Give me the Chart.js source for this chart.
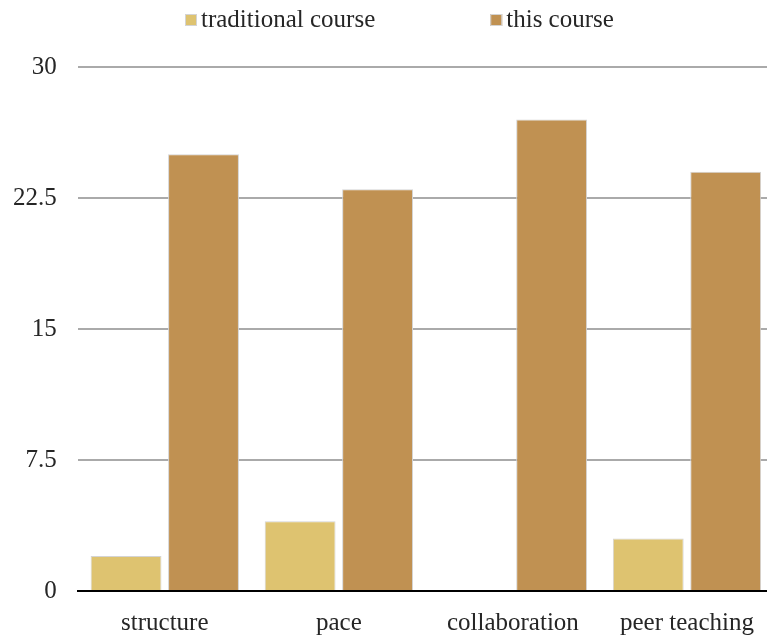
<!DOCTYPE html>
<html>
<head>
<meta charset="utf-8">
<script src="https://cdn.jsdelivr.net/npm/chart.js@4/dist/chart.umd.min.js"></script>
<style>
  body { margin: 0; background: #fff; overflow: hidden; }
  /* the original plot runs slightly past the right edge of the picture */
  #wrap { width: 775px; height: 639px; position: relative; }
</style>
</head>
<body>
<div id="wrap"><canvas id="course-chart"></canvas></div>
<script>
let categories = ['structure', 'pace', 'collaboration', 'peer teaching'];
let traditionalValues = [2, 4, 0, 3];
let thisCourseValues = [25, 23, 27, 24];
let yTicks = [0, 7.5, 15, 22.5, 30];

let fontFamily = '"Liberation Serif", "Times New Roman", serif';
let textColor = '#262626';

// legend drawn by hand so the two items can sit far apart like the original
let topLegend = {
    id: 'topLegend',
    afterDraw(chart) {
        let ctx = chart.ctx;
        ctx.save();
        ctx.font = '25px ' + fontFamily;
        ctx.textBaseline = 'middle';
        let y = 20;
        let x = 185;
        chart.data.datasets.forEach(ds => {
            ctx.fillStyle = ds.backgroundColor;
            ctx.fillRect(x, y - 6, 12, 12);
            ctx.strokeStyle = '#d4d4d4';
            ctx.lineWidth = 1;
            ctx.strokeRect(x + 0.5, y - 5.5, 11, 11);
            ctx.fillStyle = textColor;
            ctx.fillText(ds.label, x + 16, y);
            x += 16 + ctx.measureText(ds.label).width + 115;
        });
        ctx.restore();
    }
};

let courseData = {
    labels: categories,
    datasets: [{
        label: 'traditional course',
        data: traditionalValues,
        backgroundColor: '#DEC370',
        borderColor: '#d4d4d4',
        borderWidth: 1,
        categoryPercentage: 0.89,
        barPercentage: 0.915
    }, {
        label: 'this course',
        data: thisCourseValues,
        backgroundColor: '#C09152',
        borderColor: '#d4d4d4',
        borderWidth: 1,
        categoryPercentage: 0.89,
        barPercentage: 0.915
    }]
};

let courseConfig = {
    type: 'bar',
    data: courseData,
    options: {
        responsive: true,
        maintainAspectRatio: false,
        animation: false,
        layout: {
            padding: { top: 67, left: -8, right: 1, bottom: -16 }
        },
        plugins: {
            legend: { display: false },
            tooltip: { enabled: false }
        },
        scales: {
            x: {
                grid: { display: false, drawTicks: false },
                border: { display: true, color: '#000', width: 2 },
                ticks: {
                    color: textColor,
                    padding: 17,
                    font: { family: fontFamily, size: 25 }
                }
            },
            y: {
                min: 0,
                max: 30,
                afterBuildTicks(axis) {
                    axis.ticks = yTicks.map(v => ({ value: v }));
                },
                grid: { color: '#aaaaaa', lineWidth: 2, drawTicks: false },
                border: { display: false },
                ticks: {
                    color: textColor,
                    padding: 21,
                    font: { family: fontFamily, size: 25 }
                }
            }
        }
    },
    plugins: [topLegend]
};

let courseChart = new Chart(
    document.getElementById('course-chart'),
    courseConfig
);
</script>
</body>
</html>
